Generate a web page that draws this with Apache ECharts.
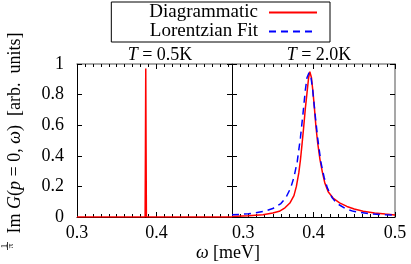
<!DOCTYPE html>
<html>
<head>
<meta charset="utf-8">
<script src="https://cdn.jsdelivr.net/npm/echarts@6/dist/echarts.min.js"></script>
<style>
html,body{margin:0;padding:0;background:#fff;}
#chart{width:411px;height:264px;}
</style>
</head>
<body>
<div id="chart"></div>
<script>
// ---- data ----
const seriesNames = ['Diagrammatic', 'Lorentzian Fit'];
const panelTitles = ['0.5K', '2.0K'];

// T = 0.5K panel: Diagrammatic (very sharp peak)
const omegaLeft = [0.300, 0.3857, 0.3861, 0.3865, 0.3869, 0.3873, 0.495];
const diagLeft  = [0,     0,      0.45,   0.97,   0.45,   0,      0];

// T = 2.0K panel: Diagrammatic
const omegaRightDiag = [0.300, 0.320, 0.338, 0.350, 0.358, 0.365, 0.371, 0.376, 0.379, 0.382,
                        0.384, 0.386, 0.388, 0.390, 0.392, 0.394, 0.3955, 0.3975, 0.3995, 0.401,
                        0.403, 0.405, 0.408, 0.411, 0.414, 0.418, 0.424, 0.432, 0.441, 0.450,
                        0.461, 0.475, 0.488, 0.500];
const diagRight = [0.003, 0.008, 0.015, 0.026, 0.037, 0.060, 0.091, 0.140, 0.200, 0.290,
                   0.374, 0.480, 0.590, 0.710, 0.810, 0.910, 0.950, 0.910, 0.810, 0.720,
                   0.590, 0.490, 0.374, 0.290, 0.220, 0.165, 0.124, 0.092, 0.069, 0.052,
                   0.037, 0.026, 0.019, 0.013];

// T = 2.0K panel: Lorentzian fit
const omegaRightFit = [0.300, 0.320, 0.340, 0.350, 0.360, 0.366, 0.372, 0.376, 0.380, 0.384,
                       0.387, 0.390, 0.392, 0.3945, 0.397, 0.399, 0.402, 0.405, 0.409, 0.413,
                       0.417, 0.423, 0.429, 0.439, 0.449, 0.469, 0.489, 0.500];
const fitRight = [0.014, 0.021, 0.037, 0.055, 0.088, 0.125, 0.190, 0.260, 0.360, 0.520,
                  0.670, 0.830, 0.910, 0.943, 0.910, 0.830, 0.670, 0.520, 0.360, 0.260,
                  0.190, 0.125, 0.088, 0.055, 0.037, 0.021, 0.014, 0.012];

// ---- chart ----
const FONT = "'Liberation Serif', 'DejaVu Serif', serif";
const zip = (xs, ys) => xs.map((x, i) => [x, ys[i]]);
const chart = echarts.init(document.getElementById('chart'), null, {renderer: 'canvas'});

const RED = '#ff0000', BLUE = '#0000ff', GRAY = '#8a8a8a';
const labelStyle = {fontFamily: FONT, fontSize: 18, color: '#000'};

function xAxisBottom(grid, max, fmt, extra) {
  return Object.assign({
    type: 'value', gridIndex: grid, position: 'bottom', min: 0.3, max: max, interval: 0.1,
    axisLine: {show: true, onZero: false, lineStyle: {color: '#000', width: 1}},
    axisTick: {show: true, inside: true, length: 5, lineStyle: {color: '#000'}},
    minorTick: {show: true, splitNumber: 10, length: 3, lineStyle: {color: '#000'}},
    splitLine: {show: false}, minorSplitLine: {show: false},
    axisLabel: Object.assign({margin: 7, formatter: fmt}, labelStyle)
  }, extra || {});
}
function xAxisTop(grid, max) {
  return {
    type: 'value', gridIndex: grid, position: 'top', min: 0.3, max: max, interval: 0.1,
    axisLine: {show: true, onZero: false, lineStyle: {color: GRAY, width: 1.5}},
    axisTick: {show: true, inside: true, length: 5, lineStyle: {color: '#000'}},
    minorTick: {show: true, splitNumber: 10, length: 3, lineStyle: {color: '#000'}},
    splitLine: {show: false}, axisLabel: {show: false}
  };
}
function yAxis(grid, pos, color, showLabel, extra) {
  return Object.assign({
    type: 'value', gridIndex: grid, position: pos, min: 0, max: 1, interval: 0.2,
    axisLine: {show: true, onZero: false, lineStyle: {color: color, width: color === GRAY ? 1.5 : 1}},
    axisTick: {show: true, inside: true, length: 5, lineStyle: {color: '#000'}},
    splitLine: {show: false},
    axisLabel: showLabel ? Object.assign({margin: 13, formatter: v => (v === 0 || v === 1) ? String(v) : v.toFixed(1)}, labelStyle) : {show: false}
  }, extra || {});
}

const option = {
  animation: false,
  backgroundColor: '#fff',
  title: [
    {text: '{i|T} = ' + panelTitles[0], left: 155, top: 41, textAlign: 'center',
     textStyle: {fontFamily: FONT, fontSize: 18, fontWeight: 'normal', color: '#000',
       rich: {i: {fontFamily: FONT, fontSize: 18, fontStyle: 'italic', color: '#000'}}}},
    {text: '{i|T} = ' + panelTitles[1], left: 314, top: 41, textAlign: 'center',
     textStyle: {fontFamily: FONT, fontSize: 18, fontWeight: 'normal', color: '#000',
       rich: {i: {fontFamily: FONT, fontSize: 18, fontStyle: 'italic', color: '#000'}}}}
  ],
  legend: {
    orient: 'vertical', align: 'right', right: 81, top: 2,
    padding: [1, 12, 1, 38], itemGap: 0, itemWidth: 48, itemHeight: 14,
    borderColor: '#000', borderWidth: 1, borderRadius: 0,
    data: seriesNames,
    itemStyle: {opacity: 0, borderWidth: 0},
    textStyle: {fontFamily: FONT, fontSize: 19, color: '#000', lineHeight: 18, padding: [0, 6, 0, 0]}
  },
  grid: [
    {left: 77, top: 64, width: 155, height: 153},
    {left: 232, top: 64, width: 163, height: 153}
  ],
  xAxis: [
    xAxisBottom(0, 0.495, v => (Math.abs(v - 0.3) < 1e-9 || Math.abs(v - 0.4) < 1e-9) ? v.toFixed(1) : ''),
    xAxisTop(0, 0.495),
    xAxisBottom(1, 0.5, v => v.toFixed(1), {axisLabel: Object.assign({margin: 7, formatter: v => v.toFixed(1), alignMinLabel: 'left'}, labelStyle)}),
    xAxisTop(1, 0.5)
  ],
  yAxis: [
    yAxis(0, 'left', '#000', true, {
      name: '{n|Im }{i|G}{n|(}{i|p}{n| = 0, }{i|ω}{n|)  [arb.  units]}',
      nameLocation: 'middle', nameRotate: 90, nameGap: 53,
      nameTextStyle: {fontFamily: FONT, fontSize: 18, color: '#000', padding: [0, 0, 0, 15],
        rich: {n: {fontFamily: FONT, fontSize: 18, color: '#000'},
               i: {fontFamily: FONT, fontSize: 18, fontStyle: 'italic', color: '#000'}}}
    }),
    yAxis(0, 'right', '#000', false),
    yAxis(1, 'left', '#000', false),
    yAxis(1, 'right', GRAY, false)
  ],
  series: [
    {name: seriesNames[0], type: 'line', xAxisIndex: 0, yAxisIndex: 0, data: zip(omegaLeft, diagLeft),
     symbol: 'none', lineStyle: {color: RED, width: 1.5}, itemStyle: {color: RED}, z: 3},
    {name: seriesNames[0], type: 'line', xAxisIndex: 2, yAxisIndex: 2, data: zip(omegaRightDiag, diagRight),
     symbol: 'none', lineStyle: {color: RED, width: 1.5}, itemStyle: {color: RED}, z: 3},
    {name: seriesNames[1], type: 'line', xAxisIndex: 2, yAxisIndex: 2, data: zip(omegaRightFit, fitRight),
     symbol: 'none', lineStyle: {color: BLUE, width: 1.5, type: [7, 5]}, itemStyle: {color: BLUE}, z: 4}
  ],
  graphic: [
    {type: 'text', x: 228, y: 253, style: {text: '{i|ω} [meV]', align: 'center', verticalAlign: 'middle',
      fontFamily: FONT, fontSize: 18, fill: '#000',
      rich: {i: {fontFamily: FONT, fontSize: 18, fontStyle: 'italic', fill: '#000'}}}},
    {type: 'text', x: 4.5, y: 246, rotation: Math.PI / 2,
     style: {text: '1', align: 'center', verticalAlign: 'middle', fontFamily: FONT, fontSize: 9, fill: '#000'}},
    {type: 'line', shape: {x1: 7.5, y1: 242, x2: 7.5, y2: 250}, style: {stroke: '#000', lineWidth: 0.8}},
    {type: 'text', x: 11, y: 246, rotation: Math.PI / 2,
     style: {text: 'π', align: 'center', verticalAlign: 'middle', fontFamily: FONT, fontSize: 9, fill: '#000'}}
  ]
};
chart.setOption(option);
</script>
</body>
</html>
